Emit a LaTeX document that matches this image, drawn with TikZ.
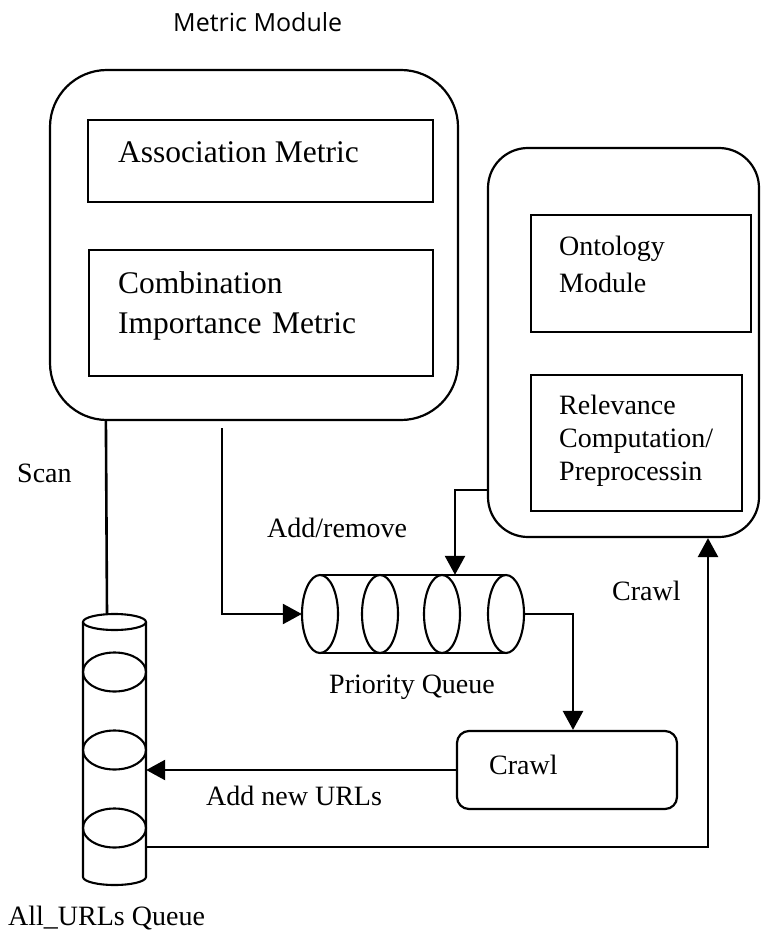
\documentclass[tikz,border=0pt]{standalone}
\usepackage{fontspec}
\setmainfont{Liberation Serif}
\newfontfamily\headfont{Open Sans}
\usetikzlibrary{arrows.meta}

\tikzset{
  box/.style={draw, line width=2.2pt, inner sep=0pt},
  conn/.style={line width=2.6pt},
  arr/.style={conn, -{Triangle[length=19pt,width=20pt]}},
  cyl/.style={line width=2.1pt},
  ghost/.style={inner sep=0pt},
  txt/.style={inner sep=0pt, anchor=base west, font=\fontsize{28}{34}\selectfont},
  multi/.style={txt, text width=#1, align=left},
  bigtxt/.style={txt, font=\fontsize{31.5}{40}\selectfont},
}

\begin{document}
\begin{tikzpicture}[x=1pt,y=-1pt]
\useasboundingbox (0,0) rectangle (761,933);

% title
\node[inner sep=0pt, anchor=base west, font=\headfont\fontsize{25}{30}\selectfont] (title) at (173,32) {Metric Module};

% metric module
\node[box, rounded corners=57pt, minimum width=408pt, minimum height=350pt] (metric) at (254,245) {};
\node[box, minimum width=345pt, minimum height=82pt] (assoc) at (260.5,161) {};
\node[box, minimum width=344pt, minimum height=126pt] (comb) at (261,313) {};
\node[bigtxt] (assoctxt) at (118,163) {Association Metric};
\node[bigtxt, text width=320pt, align=left] (combtxt) at (118,293) {Combination\\Importance Metric};

% ontology module
\node[box, rounded corners=40pt, minimum width=271pt, minimum height=389pt] (ont) at (623.5,342.5) {};
\node[box, minimum width=220pt, minimum height=117pt] (ontmod) at (641,273.5) {};
\node[box, minimum width=211pt, minimum height=136pt] (relev) at (636.5,443) {};
\node[multi=180pt, font=\fontsize{28}{37}\selectfont] (onttxt) at (559,255) {Ontology\\Module};
\node[multi=180pt, font=\fontsize{28}{33}\selectfont] (relevtxt) at (559,414) {Relevance\\Computation/\\Preprocessin};

% crawl box
\node[box, rounded corners=12pt, minimum width=220pt, minimum height=78pt] (crawl) at (567,770) {};
\node[txt] (crawltxt) at (489,774) {Crawl};

% priority queue (horizontal cylinder)
\node[ghost, minimum width=222pt, minimum height=78pt] (pq) at (413,614) {};
\draw[cyl] (320,575) -- (506,575) (320,653) -- (506,653);
\foreach \cx in {320,380,442,506}
  \draw[cyl] (\cx,614) ellipse[x radius=18, y radius=39];

% all URLs queue (vertical cylinder)
\node[ghost, minimum width=63pt, minimum height=271pt] (allq) at (114.5,749.5) {};
\draw[cyl] (83,622) -- (83,877) arc[start angle=180, end angle=0, x radius=31.5, y radius=8] -- (146,622);
\draw[cyl] (114.5,622) ellipse[x radius=31.5, y radius=8];
\foreach \cy in {672,750,828}
  \draw[cyl] (114.5,\cy) ellipse[x radius=31.5, y radius=19.5];

% labels
\node[txt] (scan) at (17,482) {Scan};
\node[txt] (addrem) at (267,537) {Add/remove};
\node[txt] (pqlbl) at (329,693) {Priority Queue};
\node[txt] (crawllbl) at (612,600) {Crawl};
\node[txt] (addnew) at (206,805) {Add new URLs};
\node[txt] (allqlbl) at (8,925) {All\_URLs Queue};

% connectors
\coordinate (mq) at (222,428);
\draw[conn] ([xshift=57pt]metric.south west) -- ([xshift=-7.5pt]allq.north);
\draw[arr] (mq) |- (pq.west);
\draw[arr] ([yshift=-147.5pt]ont.west) -| ([xshift=42pt]pq.north);
\draw[arr] (pq.east) -| ([xshift=6pt]crawl.north);
\draw[arr] (crawl.west) -- (allq.east |- crawl.west);
\draw[arr] ([yshift=-97.5pt]allq.east) -| ([xshift=84.5pt]ont.south);
\end{tikzpicture}
\end{document}
